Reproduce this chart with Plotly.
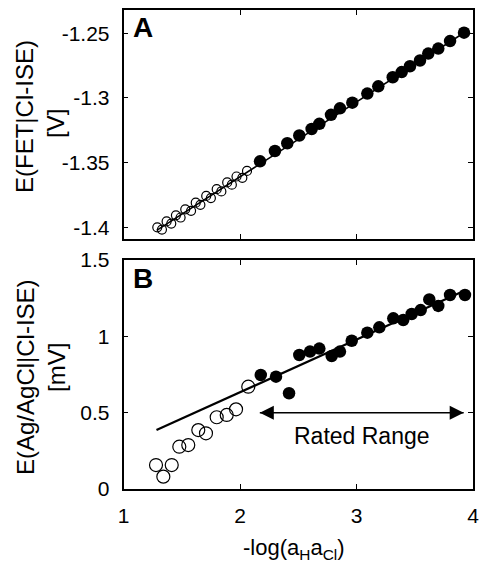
import plotly.graph_objects as go

# ---- Panel A: FET-based Cl-ISE potential (V) ----
a_open_x = [1.29, 1.33, 1.37, 1.41, 1.45, 1.49, 1.53, 1.58, 1.62, 1.66,
            1.71, 1.75, 1.80, 1.84, 1.89, 1.93, 1.97, 2.02, 2.06]
a_open_y = [-1.4000, -1.4017, -1.3954, -1.3971, -1.3907, -1.3924, -1.3861,
            -1.3872, -1.3809, -1.3826, -1.3757, -1.3774, -1.3705, -1.3722,
            -1.3653, -1.3670, -1.3607, -1.3617, -1.3564]
a_fill_x = [2.172, 2.300, 2.406, 2.509, 2.615, 2.681, 2.781, 2.858, 2.964,
            3.093, 3.187, 3.311, 3.388, 3.459, 3.545, 3.616, 3.702, 3.803, 3.923]
a_fill_y = [-1.3490, -1.3410, -1.3350, -1.3290, -1.3240, -1.3200, -1.3130,
            -1.3080, -1.3036, -1.2966, -1.2910, -1.2840, -1.2800, -1.2755,
            -1.2710, -1.2657, -1.2618, -1.2560, -1.2495]
a_fit_x = [1.285, 3.930]
a_fit_y = [-1.4023, -1.2492]

# ---- Panel B: Ag/AgCl vs Cl-ISE potential (mV) ----
b_open_x = [1.279, 1.342, 1.414, 1.479, 1.556, 1.642, 1.708, 1.800, 1.886, 1.966, 2.071]
b_open_y = [0.157, 0.081, 0.157, 0.277, 0.288, 0.386, 0.365, 0.470, 0.485, 0.522, 0.670]
b_fill_x = [2.178, 2.309, 2.421, 2.509, 2.601, 2.681, 2.787, 2.858, 2.959,
            3.093, 3.196, 3.316, 3.401, 3.474, 3.551, 3.625, 3.702, 3.803, 3.931]
b_fill_y = [0.747, 0.736, 0.627, 0.878, 0.900, 0.920, 0.871, 0.900, 0.971,
            1.024, 1.059, 1.118, 1.107, 1.146, 1.172, 1.242, 1.199, 1.271, 1.271]
b_fit_x = [1.283, 3.930]
b_fit_y = [0.386, 1.300]

# Rated range arrow (x extent, y level)
rated_x = [2.17, 3.92]
rated_y = [0.5, 0.5]

x_ticks = [1, 2, 3, 4]
x_ticktext = ["1", "2", "3", "4"]
a_yticks = [-1.4, -1.35, -1.3, -1.25]
a_yticktext = ["-1.4", "-1.35", "-1.3", "-1.25"]
b_yticks = [0, 0.5, 1, 1.5]
b_yticktext = ["0", "0.5", "1", "1.5"]

FONT = "Liberation Sans, Arial, sans-serif"
W, H = 481, 569

fig = go.Figure()

# Panel A traces
fig.add_trace(go.Scatter(x=a_fit_x, y=a_fit_y, mode="lines",
                         line=dict(color="black", width=1.5),
                         xaxis="x", yaxis="y", showlegend=False))
fig.add_trace(go.Scatter(x=a_open_x, y=a_open_y, mode="markers",
                         marker=dict(symbol="circle-open", size=9, color="black",
                                     line=dict(width=1.2)),
                         xaxis="x", yaxis="y", showlegend=False))
fig.add_trace(go.Scatter(x=a_fill_x, y=a_fill_y, mode="markers",
                         marker=dict(symbol="circle", size=12.5, color="black"),
                         xaxis="x", yaxis="y", showlegend=False))

# Panel B traces
fig.add_trace(go.Scatter(x=b_fit_x, y=b_fit_y, mode="lines",
                         line=dict(color="black", width=2.2),
                         xaxis="x2", yaxis="y2", showlegend=False))
fig.add_trace(go.Scatter(x=b_open_x, y=b_open_y, mode="markers",
                         marker=dict(symbol="circle-open", size=13, color="black",
                                     line=dict(width=1.2)),
                         xaxis="x2", yaxis="y2", showlegend=False))
fig.add_trace(go.Scatter(x=b_fill_x, y=b_fill_y, mode="markers",
                         marker=dict(symbol="circle", size=12.5, color="black"),
                         xaxis="x2", yaxis="y2", showlegend=False))

# Rated range double arrow
fig.add_trace(go.Scatter(x=rated_x, y=rated_y, mode="lines",
                         line=dict(color="black", width=1.5),
                         xaxis="x2", yaxis="y2", showlegend=False))
fig.add_trace(go.Scatter(x=rated_x, y=rated_y, mode="markers",
                         marker=dict(symbol=["arrow-left", "arrow-right"], size=14,
                                     color="black", line=dict(width=0)),
                         xaxis="x2", yaxis="y2", showlegend=False))

xdom = [123.5 / W, 473 / W]
ydomA = [1 - 239 / H, 1 - 10 / H]
ydomB = [1 - 489 / H, 1 - 260 / H]

axis_common = dict(showline=True, linecolor="black", linewidth=1.5, mirror="ticks",
                   ticks="inside", ticklen=5, tickwidth=1, tickcolor="black",
                   showgrid=False, zeroline=False, automargin=False,
                   tickfont=dict(family=FONT, size=21, color="black"))

fig.update_layout(
    width=W, height=H,
    margin=dict(l=0, r=0, t=0, b=0, autoexpand=False),
    paper_bgcolor="white", plot_bgcolor="white",
    xaxis=dict(domain=xdom, range=[1, 4], anchor="y", tickvals=x_ticks,
               ticktext=x_ticktext, showticklabels=False, **axis_common),
    yaxis=dict(domain=ydomA, range=[-1.409, -1.232], anchor="x",
               tickvals=a_yticks, ticktext=a_yticktext, ticklabelstandoff=8,
               **axis_common),
    xaxis2=dict(domain=xdom, range=[1, 4], anchor="y2", tickvals=x_ticks,
                ticktext=x_ticktext, ticklabelstandoff=7, **axis_common),
    yaxis2=dict(domain=ydomB, range=[0, 1.5], anchor="x2",
                tickvals=b_yticks, ticktext=b_yticktext, ticklabelstandoff=8,
                **axis_common),
)


def label(text, x_px, y_px, size, angle=0, bold=False):
    """Place a text label centred at a pixel position on the page."""
    fig.add_annotation(text=f"<b>{text}</b>" if bold else text,
                       xref="paper", yref="paper", x=x_px / W, y=1 - y_px / H,
                       xanchor="center", yanchor="middle", textangle=angle,
                       showarrow=False,
                       font=dict(family=FONT, size=size, color="black"))


# Panel letters
label("A", 143, 28, 28, bold=True)
label("B", 143, 278, 28, bold=True)

# Rated range caption
fig.add_annotation(text="Rated Range", xref="x2", yref="y2", x=3.05, y=0.35,
                   xanchor="center", yanchor="middle", showarrow=False,
                   font=dict(family=FONT, size=23, color="black"))

# Y-axis titles (two lines each)
label("E(FET|Cl-ISE)", 25, 117, 24, angle=-90)
label("[V]", 56, 124, 24, angle=-90)
label("E(Ag/AgCl|Cl-ISE)", 25, 377, 24, angle=-90)
label("[mV]", 56, 368, 24, angle=-90)

# X-axis title
label("-log(a<sub>H</sub>a<sub>Cl</sub>)", 294, 549, 22)

fig.write_html("out.html")
